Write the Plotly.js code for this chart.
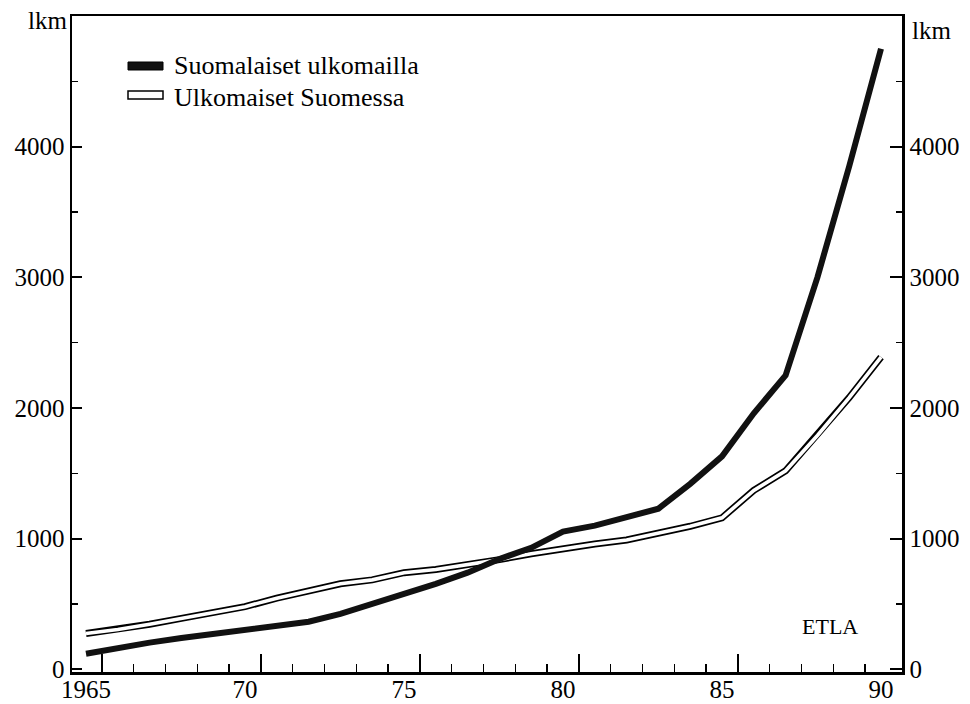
<!DOCTYPE html>
<html>
<head>
<meta charset="utf-8">
<script src="https://cdn.plot.ly/plotly-3.0.1.min.js"></script>
<style>
  html, body { margin: 0; padding: 0; background: #ffffff; }
  #chart { width: 970px; height: 704px; }
</style>
</head>
<body>
<div id="chart"></div>
<script>
// ---- data ----
const years = [1965, 1966, 1967, 1968, 1969, 1970, 1971, 1972, 1973, 1974,
               1975, 1976, 1977, 1978, 1979, 1980, 1981, 1982, 1983, 1984,
               1985, 1986, 1987, 1988, 1989, 1990];
// Suomalaiset ulkomailla (thick black line), lkm
const suomalaisetUlkomailla = [120, 165, 205, 240, 270, 300, 330, 365, 425, 500,
                               580, 655, 740, 845, 930, 1055, 1100, 1170, 1230, 1420,
                               1630, 1960, 2250, 3000, 3850, 4750];
// Ulkomaiset Suomessa (hollow line), lkm
const ulkomaisetSuomessa = [275, 305, 345, 390, 430, 480, 545, 600, 655, 685,
                            740, 765, 800, 840, 885, 925, 960, 990, 1040, 1095,
                            1160, 1370, 1520, 1790, 2080, 2390];
const seriesNames = ['Suomalaiset ulkomailla', 'Ulkomaiset Suomessa'];
const xLabelYears = [1965, 1970, 1975, 1980, 1985, 1990];
const xTickLabels = ['1965', '70', '75', '80', '85', '90'];
const yTicks = [0, 1000, 2000, 3000, 4000];
const yMinorTicks = [500, 1500, 2500, 3500, 4500];
const unitLabel = 'lkm';
const sourceLabel = 'ETLA';

// tick marks sit between years in the original
const majorTickPos = xLabelYears.slice(0, 5).map(y => y + 0.5);
const minorTickPos = years.slice(0, -1).map(y => y + 0.5);

const FONT = 'Liberation Serif, Times New Roman, serif';
const xRange = [1964.56, 1990.66];
const yRange = [-20, 5000];

const traces = [
  { x: years, y: ulkomaisetSuomessa, xaxis: 'x', yaxis: 'y', mode: 'lines',
    line: { color: '#000', width: 7 }, showlegend: false, hoverinfo: 'skip' },
  { x: years, y: ulkomaisetSuomessa, xaxis: 'x', yaxis: 'y', mode: 'lines',
    line: { color: '#fff', width: 3.6 }, showlegend: false, name: seriesNames[1] },
  { x: years, y: suomalaisetUlkomailla, xaxis: 'x2', yaxis: 'y2', mode: 'lines',
    line: { color: '#111', width: 6 }, showlegend: false, name: seriesNames[0] }
];

const px2paperX = p => (p - 72) / 830;
const px2paperY = p => (672 - p) / 656;

const layout = {
  width: 970, height: 704,
  margin: { l: 72, r: 68, t: 16, b: 32, pad: 0 },
  paper_bgcolor: '#fff', plot_bgcolor: '#fff',
  font: { family: FONT, color: '#000', size: 25 },
  showlegend: false,
  xaxis: {
    range: xRange, showline: true, linecolor: '#000', linewidth: 2.5, mirror: true,
    showgrid: false, zeroline: false, showticklabels: false,
    ticks: 'inside', tickmode: 'array', tickvals: majorTickPos,
    ticklen: 18, tickwidth: 2, tickcolor: '#000',
    minor: { ticks: 'inside', tickmode: 'array', tickvals: minorTickPos,
             ticklen: 8, tickwidth: 1.3, tickcolor: '#000', showgrid: false }
  },
  xaxis2: {
    overlaying: 'x', anchor: 'y2', side: 'bottom', range: xRange,
    showline: false, showgrid: false, zeroline: false, ticks: '',
    tickmode: 'array', tickvals: xLabelYears, ticktext: xTickLabels,
    tickfont: { family: FONT, size: 25, color: '#000' }
  },
  yaxis: {
    range: yRange, showline: true, linecolor: '#000', linewidth: 2.5,
    showgrid: false, zeroline: false,
    ticks: 'inside', tickmode: 'array', tickvals: yTicks,
    ticklen: 10, tickwidth: 2, tickcolor: '#000',
    tickfont: { family: FONT, size: 25, color: '#000' },
    minor: { ticks: 'inside', tickmode: 'array', tickvals: yMinorTicks,
             ticklen: 6, tickwidth: 1.2, tickcolor: '#000', showgrid: false }
  },
  yaxis2: {
    overlaying: 'y', anchor: 'x2', side: 'right', range: yRange,
    showline: true, linecolor: '#000', linewidth: 2.5,
    showgrid: false, zeroline: false,
    ticks: 'inside', tickmode: 'array', tickvals: yTicks,
    ticklen: 12, tickwidth: 2, tickcolor: '#000',
    tickfont: { family: FONT, size: 25, color: '#000' },
    minor: { ticks: 'inside', tickmode: 'array', tickvals: yMinorTicks,
             ticklen: 6, tickwidth: 1.2, tickcolor: '#000', showgrid: false }
  },
  shapes: [
    { type: 'rect', xref: 'paper', yref: 'paper',
      x0: px2paperX(128), x1: px2paperX(163), y0: px2paperY(70), y1: px2paperY(62),
      fillcolor: '#111', line: { color: '#000', width: 1 } },
    { type: 'rect', xref: 'paper', yref: 'paper',
      x0: px2paperX(128), x1: px2paperX(163), y0: px2paperY(99), y1: px2paperY(91),
      fillcolor: '#fff', line: { color: '#000', width: 1.5 } }
  ],
  annotations: [
    { text: seriesNames[0], xref: 'paper', yref: 'paper', x: px2paperX(172), y: px2paperY(66),
      xanchor: 'left', yanchor: 'middle', showarrow: false,
      font: { family: FONT, size: 26, color: '#000' } },
    { text: seriesNames[1], xref: 'paper', yref: 'paper', x: px2paperX(172), y: px2paperY(97),
      xanchor: 'left', yanchor: 'middle', showarrow: false,
      font: { family: FONT, size: 26, color: '#000' } },
    { text: unitLabel, xref: 'paper', yref: 'paper', x: px2paperX(69), y: px2paperY(21),
      xanchor: 'right', yanchor: 'middle', showarrow: false,
      font: { family: FONT, size: 25, color: '#000' } },
    { text: unitLabel, xref: 'paper', yref: 'paper', x: px2paperX(910), y: px2paperY(31),
      xanchor: 'left', yanchor: 'middle', showarrow: false,
      font: { family: FONT, size: 25, color: '#000' } },
    { text: sourceLabel, xref: 'paper', yref: 'paper', x: px2paperX(800), y: px2paperY(626),
      xanchor: 'left', yanchor: 'middle', showarrow: false,
      font: { family: FONT, size: 22, color: '#000' } }
  ]
};

Plotly.newPlot('chart', traces, layout, { staticPlot: true, displayModeBar: false });
</script>
</body>
</html>
